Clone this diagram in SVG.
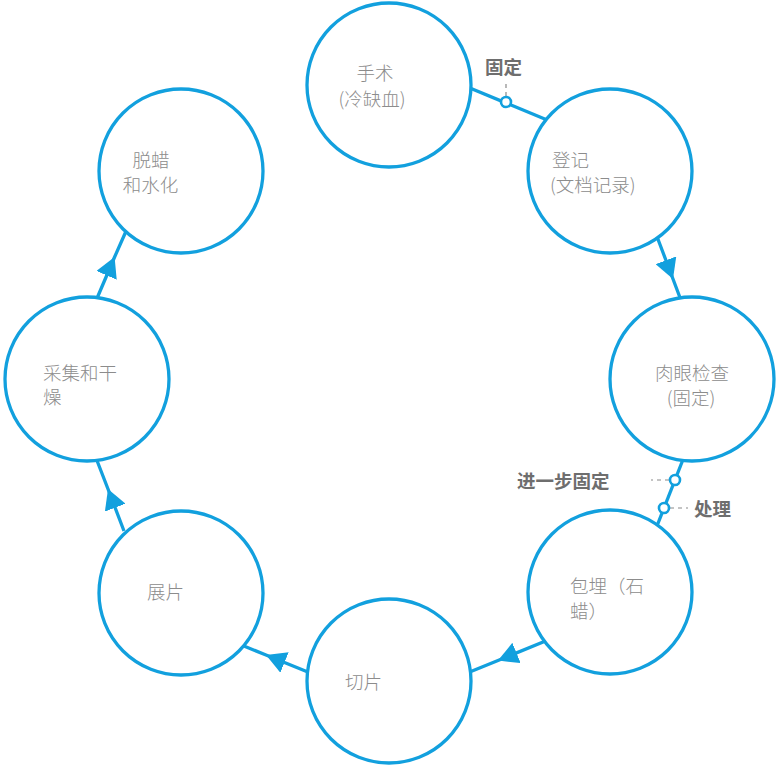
<svg xmlns="http://www.w3.org/2000/svg" width="780" height="771" viewBox="0 0 780 771">
<style>
.node{fill:#ffffff;stroke:#12a0de;stroke-width:3.3}
.conn{fill:none;stroke:#12a0de;stroke-width:3.3}
.dot{fill:#ffffff;stroke:#12a0de;stroke-width:2.6}
.lead{fill:none;stroke:#8a8a8a;stroke-width:1.2;stroke-dasharray:4 4}
.t{font-family:"Noto Sans CJK SC","Noto Sans",sans-serif;font-size:18.5px;fill:#8c8c8c;font-weight:300}
.lb{font-family:"Noto Sans CJK SC","Noto Sans",sans-serif;font-size:18.5px;fill:#6e6e6e;font-weight:bold}
</style>
<defs>
<marker id="arr" markerUnits="userSpaceOnUse" viewBox="0 0 20 22" refX="20" refY="11" markerWidth="20" markerHeight="22" orient="auto">
<path d="M0,0 L20,11 L0,22 Z" fill="#12a0de"/>
</marker>
</defs>
<g id="connectors">
<path class="conn" d="M465,86 L552,122"/>
<path class="conn" d="M656,234 L673,279 L682,303" marker-mid="url(#arr)"/>
<path class="conn" d="M683.6,458 L655.4,530"/>
<path class="conn" d="M548,640 L498,660.5 L466,673.5" marker-mid="url(#arr)"/>
<path class="conn" d="M314,674.5 L266,655 L239,644" marker-mid="url(#arr)"/>
<path class="conn" d="M124,531 L108,489 L96,458" marker-mid="url(#arr)"/>
<path class="conn" d="M95,303 L114.6,257 L127,229" marker-mid="url(#arr)"/>
<path class="lead" d="M506,96 L506,80"/>
<circle class="dot" cx="506" cy="102" r="5"/>
<text class="lb" x="485" y="74">固定</text>
<path class="lead" d="M669,480 L651,480"/>
<circle class="dot" cx="675" cy="480" r="5"/>
<text class="lb" x="517" y="488">进一步固定</text>
<path class="lead" d="M670,508 L688,508"/>
<circle class="dot" cx="664" cy="508" r="5"/>
<text class="lb" x="694" y="516">处理</text>
</g>
<g id="n1"><circle class="node" cx="389" cy="85" r="82"/><text class="t" text-anchor="middle"><tspan x="375" y="79.5">手术</tspan><tspan x="372" y="106">(冷缺血)</tspan></text></g>
<g id="n2"><circle class="node" cx="610" cy="171" r="82"/><text class="t"><tspan x="552" y="166.5">登记</tspan><tspan x="550" y="191.5">(文档记录)</tspan></text></g>
<g id="n3"><circle class="node" cx="692" cy="379" r="82"/><text class="t" text-anchor="middle"><tspan x="692" y="380">肉眼检查</tspan><tspan x="691" y="405">(固定)</tspan></text></g>
<g id="n4"><circle class="node" cx="610" cy="592" r="82"/><text class="t"><tspan x="570" y="593">包埋（石</tspan><tspan x="570" y="618">蜡）</tspan></text></g>
<g id="n5"><circle class="node" cx="389" cy="681" r="82"/><text class="t" x="345" y="688.5">切片</text></g>
<g id="n6"><circle class="node" cx="181" cy="593" r="82"/><text class="t" x="147" y="598.5">展片</text></g>
<g id="n7"><circle class="node" cx="87" cy="379" r="82"/><text class="t"><tspan x="43" y="379.5">采集和干</tspan><tspan x="43" y="403.5">燥</tspan></text></g>
<g id="n8"><circle class="node" cx="181" cy="171" r="82"/><text class="t" text-anchor="middle"><tspan x="151" y="166.5">脱蜡</tspan><tspan x="150.5" y="191.5">和水化</tspan></text></g>
</svg>
